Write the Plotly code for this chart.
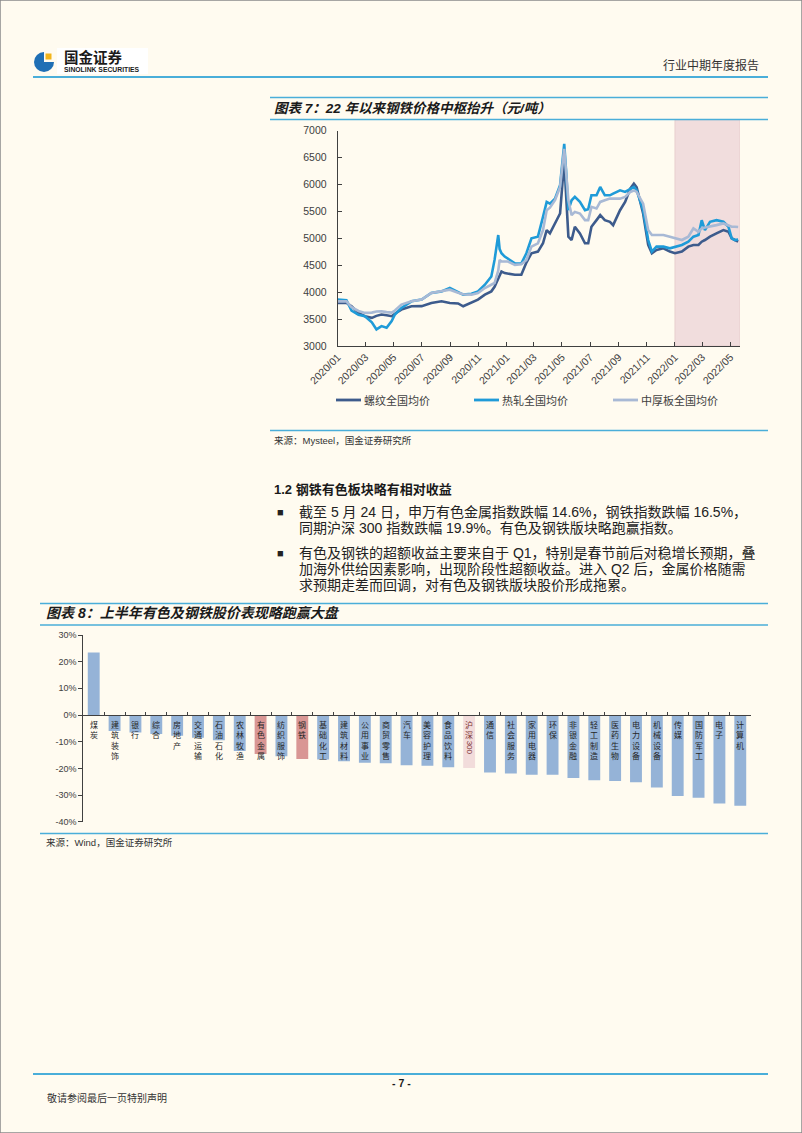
import plotly.graph_objects as go

# ---------------- data ----------------
dates = ['2020-01-01', '2020-01-20', '2020-01-31', '2020-02-15', '2020-02-29', '2020-03-15', '2020-03-25',
         '2020-04-05', '2020-04-16', '2020-04-27', '2020-05-04', '2020-05-18', '2020-06-09', '2020-07-01',
         '2020-07-22', '2020-08-13', '2020-08-31', '2020-09-18', '2020-09-29', '2020-10-17', '2020-10-31',
         '2020-11-15', '2020-11-29', '2020-12-06', '2020-12-14', '2020-12-17', '2020-12-21', '2020-12-28',
         '2021-01-04', '2021-01-19', '2021-02-02', '2021-02-13', '2021-02-24', '2021-03-10', '2021-03-21',
         '2021-03-29', '2021-04-05', '2021-04-16', '2021-04-27', '2021-05-06', '2021-05-10', '2021-05-15',
         '2021-05-22', '2021-05-29', '2021-06-09', '2021-06-20', '2021-06-27', '2021-07-04', '2021-07-15',
         '2021-07-23', '2021-08-02', '2021-08-13', '2021-08-20', '2021-09-04', '2021-09-15', '2021-09-26',
         '2021-10-04', '2021-10-10', '2021-10-24', '2021-11-04', '2021-11-12', '2021-11-22', '2021-12-07',
         '2021-12-21', '2022-01-01', '2022-01-16', '2022-01-30', '2022-02-10', '2022-02-21', '2022-02-28',
         '2022-03-07', '2022-03-18', '2022-04-01', '2022-04-16', '2022-04-27', '2022-05-04', '2022-05-11',
         '2022-05-18']
rebar = [3800, 3800, 3740, 3615, 3554, 3523, 3560, 3585, 3570, 3554, 3600, 3677, 3738, 3740, 3800, 3830,
         3800, 3790, 3738, 3800, 3861, 3954, 4015, 4100, 4250, 4290, 4385, 4354, 4340, 4323, 4323, 4550,
         4723, 4754, 4908, 5154, 5092, 5277, 5462, 6446, 5800, 5031, 4969, 5215, 5092, 4908, 4908, 5215,
         5338, 5431, 5338, 5308, 5246, 5523, 5677, 5923, 6015, 5950, 5462, 4877, 4723, 4785, 4815, 4754,
         4723, 4754, 4846, 4877, 4877, 4938, 4969, 5031, 5092, 5154, 5123, 5000, 4969, 4940]
hot_rolled = [3862, 3850, 3660, 3580, 3554, 3440, 3308, 3369, 3338, 3462, 3585, 3708, 3830, 3862, 3985, 4015,
              4077, 4010, 3954, 3970, 4015, 4138, 4292, 4600, 5062, 4800, 4723, 4662, 4620, 4538, 4530, 4723,
              5000, 5031, 5400, 5677, 5646, 5738, 5985, 6754, 6262, 5523, 5708, 5770, 5677, 5523, 5540, 5800,
              5800, 5954, 5800, 5800, 5830, 5892, 5862, 5923, 5954, 5890, 5523, 4969, 4754, 4846, 4846, 4815,
              4846, 4877, 4938, 5031, 5062, 5338, 5154, 5308, 5338, 5308, 5215, 5000, 4969, 4980]
plate = [3830, 3830, 3720, 3650, 3615, 3620, 3640, 3646, 3630, 3620, 3660, 3769, 3830, 3862, 3985, 4020,
         4046, 3990, 3960, 3954, 3985, 4077, 4140, 4170, 4400, 4600, 4570, 4570, 4570, 4508, 4520, 4600,
         4846, 4908, 5154, 5523, 5570, 5708, 5954, 6662, 6300, 5708, 5431, 5492, 5461, 5338, 5338, 5585,
         5554, 5677, 5708, 5738, 5738, 5738, 5770, 5862, 5890, 5862, 5646, 5154, 5062, 5062, 5062, 5031,
         5000, 4969, 5031, 5185, 5123, 5185, 5200, 5215, 5246, 5277, 5246, 5215, 5215, 5210]
series_names = ['螺纹全国均价', '热轧全国均价', '中厚板全国均价']
price_ticks = [3000, 3500, 4000, 4500, 5000, 5500, 6000, 6500, 7000]
month_labels = ['2020/01', '2020/03', '2020/05', '2020/07', '2020/09', '2020/11', '2021/01', '2021/03',
                '2021/05', '2021/07', '2021/09', '2021/11', '2022/01', '2022/03', '2022/05']
highlight_start = '2022-01-01'
date_end = '2022-05-22'

industries = ['煤炭', '建筑装饰', '银行', '综合', '房地产', '交通运输', '石油石化', '农林牧渔', '有色金属',
              '纺织服饰', '钢铁', '基础化工', '建筑材料', '公用事业', '商贸零售', '汽车', '美容护理',
              '食品饮料', '沪深300', '通信', '社会服务', '家用电器', '环保', '非银金融', '轻工制造',
              '医药生物', '电力设备', '机械设备', '传媒', '国防军工', '电子', '计算机']
returns = [0.234, -0.060, -0.066, -0.071, -0.078, -0.085, -0.095, -0.135, -0.146, -0.155, -0.165,
           -0.167, -0.173, -0.179, -0.181, -0.188, -0.190, -0.196, -0.199, -0.216, -0.219, -0.224,
           -0.224, -0.236, -0.245, -0.247, -0.252, -0.272, -0.304, -0.310, -0.332, -0.340]
steel_metal = ['有色金属', '钢铁']
benchmark = '沪深300'
ret_ticks = [0.3, 0.2, 0.1, 0.0, -0.1, -0.2, -0.3, -0.4]

# ---------------- styling ----------------
W, H = 802, 1133
BG = '#fffbf0'
LINE_BLUE = '#4aaed9'
FONT = 'Liberation Sans, Noto Sans CJK SC, sans-serif'
CJK = 'Noto Sans CJK SC, sans-serif'
series_colors = ['#3d5b8c', '#1f9bd8', '#a8b9d5']
BAR_BLUE, BAR_RED, BAR_PINK = '#95b3d7', '#d99694', '#f2dcdb'


def px(x):
    return x / W


def py(y):
    return 1 - y / H


def ann(x, y, text, size, color='#222222', xanchor='left', family=FONT, **kw):
    d = dict(x=px(x), y=py(y), xref='paper', yref='paper', text=text, showarrow=False,
             xanchor=xanchor, yanchor='middle', font=dict(size=size, color=color, family=family))
    d.update(kw)
    return d


def hline(x0, x1, y, color=LINE_BLUE, width=1.6):
    return dict(type='line', xref='paper', yref='paper', x0=px(x0), x1=px(x1), y0=py(y), y1=py(y),
                line=dict(color=color, width=width))


fig = go.Figure()

for name, vals, col in zip(series_names, [rebar, hot_rolled, plate], series_colors):
    fig.add_trace(go.Scatter(x=dates, y=vals, mode='lines', name=name, showlegend=False,
                             line=dict(color=col, width=2.6), xaxis='x', yaxis='y'))

bar_colors = [BAR_RED if c in steel_metal else (BAR_PINK if c == benchmark else BAR_BLUE) for c in industries]
fig.add_trace(go.Bar(x=industries, y=returns, marker=dict(color=bar_colors, line=dict(width=0)),
                     width=0.57, showlegend=False, xaxis='x2', yaxis='y2'))

month_vals = [m.replace('/', '-') + '-01' for m in month_labels]

shapes = []
annotations = []

# page border
shapes.append(dict(type='rect', xref='paper', yref='paper', x0=0, x1=1, y0=0, y1=1,
                   line=dict(color='#8a8a8a', width=1.5)))

# header
shapes.append(dict(type='rect', xref='paper', yref='paper', x0=px(57), x1=px(148), y0=py(74), y1=py(48),
                   fillcolor='white', line=dict(width=0)))
shapes.append(dict(type='circle', xref='paper', yref='paper', x0=px(34), x1=px(54), y0=py(72), y1=py(52),
                   fillcolor='#1f6fb5', line=dict(width=0)))
shapes.append(dict(type='rect', xref='paper', yref='paper', x0=px(44), x1=px(55), y0=py(62), y1=py(50),
                   fillcolor=BG, line=dict(width=0)))
shapes.append(dict(type='rect', xref='paper', yref='paper', x0=px(45.5), x1=px(51.5), y0=py(59.5), y1=py(53.5),
                   fillcolor='#f3b51b', line=dict(width=0)))
annotations.append(ann(62, 57, '<b>国金证券</b>', 14.5, '#1a1a1a', family=CJK))
annotations.append(ann(62, 69.5, '<b>SINOLINK SECURITIES</b>', 6.8, '#1a1a1a'))
annotations.append(ann(761, 65, '行业中期年度报告', 12, '#333333', xanchor='right', family=CJK))
shapes.append(hline(33, 768, 77, width=1.8))

# chart 1 title / frame
shapes.append(hline(270, 768, 97.5))
shapes.append(hline(270, 768, 119.5))
annotations.append(ann(272, 108.5, '<b><i>图表 7：22 年以来钢铁价格中枢抬升（元/吨）</i></b>', 13.5, '#1a1a1a'))

# highlight band
shapes.append(dict(type='rect', xref='x', yref='paper', x0=highlight_start, x1=date_end,
                   y0=py(346), y1=py(119.8), fillcolor='#f1dddd', line=dict(color='#e4c9c9', width=0.8),
                   layer='below'))

# chart 1 legend (manual)
leg_x = [336, 474, 613]
for lx, name, col in zip(leg_x, series_names, series_colors):
    shapes.append(dict(type='line', xref='paper', yref='paper', x0=px(lx), x1=px(lx + 25), y0=py(400), y1=py(400),
                       line=dict(color=col, width=2.8)))
    annotations.append(ann(lx + 26, 400, name, 11, '#404040'))

# chart 1 source
shapes.append(hline(270, 768, 430.5))
annotations.append(ann(272, 440, '来源：Mysteel，国金证券研究所', 9.5, '#333333'))

# section text
annotations.append(ann(272, 490, '<b>1.2 钢铁有色板块略有相对收益</b>', 13, '#1a1a1a'))
body = [
    (512, '截至 5 月 24 日，申万有色金属指数跌幅 14.6%，钢铁指数跌幅 16.5%，', True),
    (528, '同期沪深 300 指数跌幅 19.9%。有色及钢铁版块略跑赢指数。', False),
    (553, '有色及钢铁的超额收益主要来自于 Q1，特别是春节前后对稳增长预期，叠', True),
    (569, '加海外供给因素影响，出现阶段性超额收益。进入 Q2 后，金属价格随需', False),
    (585, '求预期走差而回调，对有色及钢铁版块股价形成拖累。', False),
]
for y, txt, bullet in body:
    annotations.append(ann(297, y, txt, 14, '#222222'))
    if bullet:
        annotations.append(ann(280, y, '■', 11, '#222222', xanchor='center'))

# chart 2 title / frame
shapes.append(hline(40, 768, 603.5))
shapes.append(hline(40, 768, 625))
annotations.append(ann(44, 613, '<b><i>图表 8：上半年有色及钢铁股价表现略跑赢大盘</i></b>', 14, '#1a1a1a'))
shapes.append(hline(40, 768, 833.5))
annotations.append(ann(44, 842.5, '来源：Wind，国金证券研究所', 9.5, '#333333'))

# vertical (stacked) category labels for chart 2
x2_dom = (83.3, 750.7)
slot = (x2_dom[1] - x2_dom[0]) / len(industries)
LAB_TOP = 718.0
LAB_SIZE = 8
for i, cat in enumerate(industries):
    cx = x2_dom[0] + slot * (i + 0.5)
    col = '#7a2e2e' if cat == benchmark else '#262626'
    chars = [c for c in cat if not c.isdigit()]
    digits = ''.join(c for c in cat if c.isdigit())
    annotations.append(dict(x=px(cx), y=py(LAB_TOP), xref='paper', yref='paper', text='<br>'.join(chars),
                            showarrow=False, xanchor='center', yanchor='top', borderpad=0,
                            font=dict(size=LAB_SIZE, color=col, family=CJK)))
    if digits:
        annotations.append(dict(x=px(cx), y=py(LAB_TOP + len(chars) * LAB_SIZE * 1.3 + 9), xref='paper',
                                yref='paper', text=digits, showarrow=False, textangle=90, borderpad=0,
                                font=dict(size=LAB_SIZE, color=col, family=FONT)))

# footer
shapes.append(hline(33, 768, 1074, width=1.8))
annotations.append(ann(401, 1082.5, '<b>- 7 -</b>', 10.5, '#1a1a1a', xanchor='center'))
annotations.append(ann(45, 1097.5, '敬请参阅最后一页特别声明', 10, '#333333', family=CJK))

axis_font = dict(family=FONT, size=10.5, color='#404040')

fig.update_layout(
    width=W, height=H, margin=dict(l=0, r=0, t=0, b=0, pad=0, autoexpand=False),
    paper_bgcolor=BG, plot_bgcolor='rgba(0,0,0,0)',
    font=dict(family=FONT),
    xaxis=dict(domain=[px(337.7), px(740)], anchor='y', type='date', range=[dates[0], date_end],
               tickvals=month_vals, ticktext=month_labels, tickangle=-45,
               tickfont=dict(family=FONT, size=10.5, color='#404040'),
               ticks='inside', ticklen=4, tickcolor='#404040', showline=True, linecolor='#404040', linewidth=1,
               showgrid=False, zeroline=False, automargin=False),
    yaxis=dict(domain=[py(346), py(130.7)], anchor='x', range=[price_ticks[0], price_ticks[-1]],
               tickvals=price_ticks, tickfont=axis_font, ticks='inside', ticklen=4, tickcolor='#404040',
               ticklabelstandoff=8,
               showline=True, linecolor='#404040', linewidth=1, showgrid=False, zeroline=False, automargin=False),
    xaxis2=dict(domain=[px(x2_dom[0]), px(x2_dom[1])], anchor='free', position=py(715), type='category',
                range=[-0.5, len(industries) - 0.5], showticklabels=False, ticks='inside', tickson='boundaries',
                ticklen=3, tickcolor='#404040', showline=True, linecolor='#404040', linewidth=1,
                showgrid=False, zeroline=False, automargin=False),
    yaxis2=dict(domain=[py(821.7), py(635)], anchor='x2', range=[ret_ticks[-1], ret_ticks[0]],
                tickvals=ret_ticks, ticktext=[f'{int(round(v * 100))}%' for v in ret_ticks],
                tickfont=dict(family=FONT, size=9, color='#404040'), ticks='outside', ticklen=4,
                tickcolor='#404040', showline=True, linecolor='#404040', linewidth=1, showgrid=False,
                zeroline=False, automargin=False),
    shapes=shapes,
    annotations=annotations,
)

fig.write_html('out.html')
